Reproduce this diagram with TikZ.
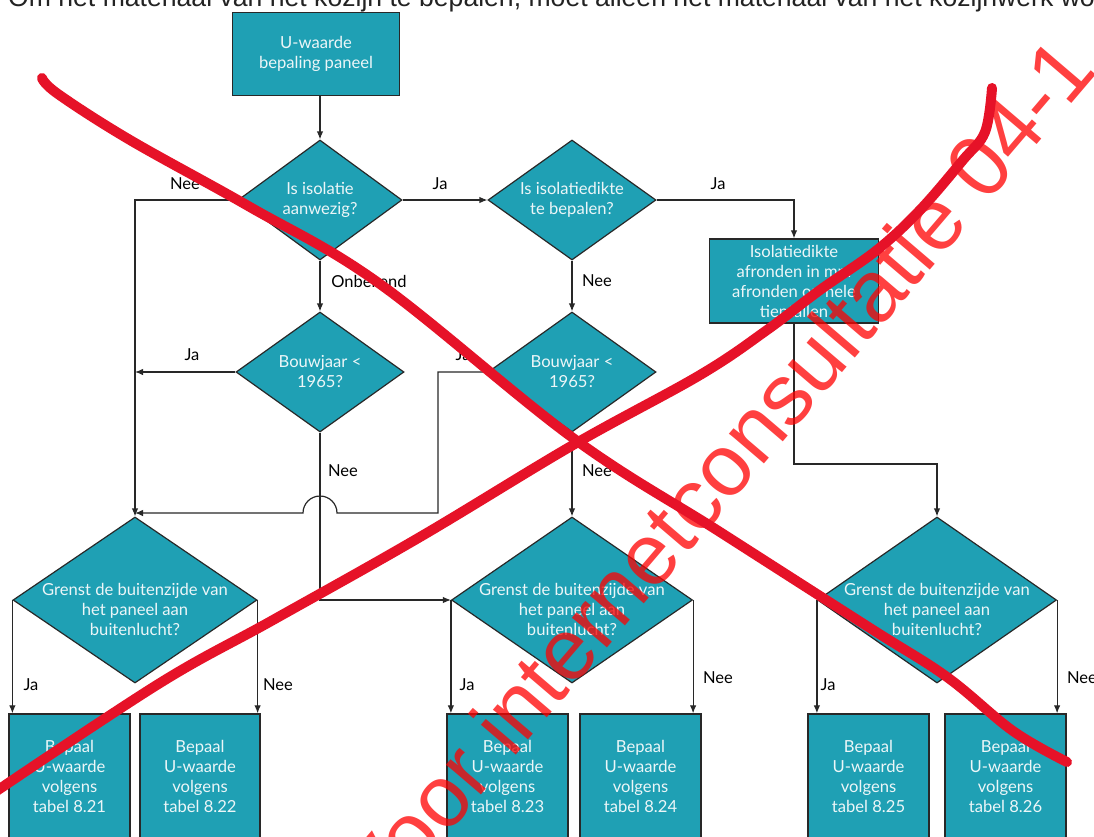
\documentclass[tikz,border=0pt]{standalone}
\usepackage{fontspec}
\setmainfont{Lato}
\newfontfamily\wmfont{Liberation Sans}
\usetikzlibrary{shapes.geometric,arrows.meta}
\definecolor{tealfill}{RGB}{31,160,180}
\definecolor{edgecol}{RGB}{40,40,40}
\definecolor{boxtxt}{RGB}{236,246,248}
\definecolor{strokered}{RGB}{230,18,40}
\definecolor{introcol}{RGB}{35,35,35}
\begin{document}
\begin{tikzpicture}[x=1pt,y=-1pt,
  box/.style={draw=edgecol, line width=1.3pt, fill=tealfill, text=boxtxt, align=center, inner sep=0pt, font=\fontsize{16.6}{20}\selectfont},
  dia/.style={draw=edgecol, line width=1.2pt, fill=tealfill, diamond, inner sep=0pt},
  dtxt/.style={text=boxtxt, align=center, inner sep=0pt, font=\fontsize{16.6}{20}\selectfont},
  lbl/.style={text=black, inner sep=0pt, font=\fontsize{16.5}{18}\selectfont},
  conn/.style={draw=edgecol, line width=1.2pt},
  arr/.style={conn, -{Latex[length=8pt,width=6.5pt]}},
  redstroke/.style={draw=strokered, line width=10pt, line cap=round, line join=round}
]
\useasboundingbox (0,0) rectangle (1094,836);
\clip (0,0) rectangle (1094,836);
\fill[white] (0,0) rectangle (1094,836);

% intro text (cut at top)
\node[anchor=base west, inner sep=0pt, text=introcol, font=\wmfont\fontsize{26.6}{27}\selectfont] (intro) at (8,6)
  {Om het materiaal van het kozijn te bepalen, moet alleen het materiaal van het kozijnwerk worden};

% nodes
\node[box, minimum width=167pt, minimum height=83pt] (top) at (316,54) {U-waarde\\bepaling paneel};

\node[dia, minimum width=164pt, minimum height=120pt] (d1) at (320,200) {};
\node[dtxt] (d1t) at (d1) {Is isolatie\\aanwezig?};

\node[dia, minimum width=168pt, minimum height=120pt] (d2) at (572,200) {};
\node[dtxt] (d2t) at (d2) {Is isolatiedikte\\te bepalen?};

\node[box, minimum width=169pt, minimum height=84pt] (b2) at (794,281)
  {Isolatiedikte\\afronden in mm\\afronden op hele\\tientallen};

\node[dia, minimum width=168pt, minimum height=120pt] (d3) at (320,372) {};
\node[dtxt] (d3t) at (d3) {Bouwjaar <\\1965?};

\node[dia, minimum width=168pt, minimum height=120pt] (d3b) at (572,372) {};
\node[dtxt] (d3bt) at (d3b) {Bouwjaar <\\1965?};

\node[dia, minimum width=244pt, minimum height=166pt] (d4) at (135,600) {};
\node[dtxt] (d4t) at (135,609) {Grenst de buitenzijde van\\het paneel aan\\buitenlucht?};

\node[dia, minimum width=241pt, minimum height=166pt] (d5) at (572,600) {};
\node[dtxt] (d5t) at (572,609) {Grenst de buitenzijde van\\het paneel aan\\buitenlucht?};

\node[dia, minimum width=239pt, minimum height=166pt] (d6) at (937,600) {};
\node[dtxt] (d6t) at (937,609) {Grenst de buitenzijde van\\het paneel aan\\buitenlucht?};

\node[box, minimum width=121pt, minimum height=124pt] (l1) at (69.5,776) {Bepaal\\U-waarde\\volgens\\tabel 8.21};
\node[box, minimum width=120pt, minimum height=124pt] (l2) at (200,776) {Bepaal\\U-waarde\\volgens\\tabel 8.22};
\node[box, minimum width=121pt, minimum height=124pt] (l3) at (507.5,776) {Bepaal\\U-waarde\\volgens\\tabel 8.23};
\node[box, minimum width=121pt, minimum height=124pt] (l4) at (640.5,776) {Bepaal\\U-waarde\\volgens\\tabel 8.24};
\node[box, minimum width=121pt, minimum height=124pt] (l5) at (868.5,776) {Bepaal\\U-waarde\\volgens\\tabel 8.25};
\node[box, minimum width=121pt, minimum height=124pt] (l6) at (1005.5,776) {Bepaal\\U-waarde\\volgens\\tabel 8.26};

% connector helper coordinates
\coordinate (jA) at (438,372);
\coordinate (jB) at (438,513);
\coordinate (hopR) at (337,513);
\coordinate (bend) at (794,464);

% connectors
\draw[arr] (d1.north |- top.south) -- (d1.north);
\draw[arr] (d1.east) -- (d2.west);
\draw[arr] (d1.west) -| (d4.north);
\draw[arr] (d1.south) -- (d3.north);
\draw[arr] (d2.east) -| (b2.north);
\draw[arr] (d2.south) -- (d3b.north);
\draw[arr] (d3.west) -- (d3.west -| d4.north);
\draw[arr] (d3.south) |- (d5.west);
\draw[arr] (d3b.west) -- (jA) -- (jB) -- (hopR) arc[start angle=0, end angle=-180, radius=17] -- (d4.north |- jB);
\draw[arr] (d3b.south) -- (d5.north);
\draw[arr] (b2.south) -- (bend) -| (d6.north);
\draw[arr] (d4.west) -- (d4.west |- l1.north);
\draw[arr] (d4.east) -- (d4.east |- l2.north);
\draw[arr] (d5.west) -- (d5.west |- l3.north);
\draw[arr] (d5.east) -- (d5.east |- l4.north);
\draw[arr] (d6.west) -- (d6.west |- l5.north);
\draw[arr] (d6.east) -- (d6.east |- l6.north);

% labels
\node[lbl] (n1) at (185,184) {Nee};
\node[lbl] (n2) at (440,184) {Ja};
\node[lbl] (n3) at (718,184) {Ja};
\node[lbl] (n4) at (369,281) {Onbekend};
\node[lbl] (n5) at (597,281) {Nee};
\node[lbl] (n6) at (192,355) {Ja};
\node[lbl] (n7) at (463,355) {Ja};
\node[lbl] (n8) at (343,471) {Nee};
\node[lbl] (n9) at (597,471) {Nee};
\node[lbl] (n10) at (31,685) {Ja};
\node[lbl] (n11) at (278,685) {Nee};
\node[lbl] (n12) at (467,685) {Ja};
\node[lbl] (n13) at (718,678) {Nee};
\node[lbl] (n14) at (828,685) {Ja};
\node[lbl] (n15) at (1082,678) {Nee};

% watermark
\node[anchor=base west, inner sep=0pt, rotate=49.5, text=red, text opacity=0.75, font=\wmfont\fontsize{87}{87}\selectfont] (wm) at (380,914)
  {Voor internetconsultatie 04-1};

% red strokes
\draw[redstroke] plot[smooth, tension=0.6] coordinates {(42,78) (58,94) (130,140) (250,207) (380,284) (573,438) (720,532) (870,628) (947,677) (1013,731) (1067,762)};
\draw[redstroke] plot[smooth, tension=0.6] coordinates {(-5,792) (160,683) (273,620) (420,537) (573,445) (700,375) (767,330) (820,290) (877,250) (920,210) (963,160) (985,132) (992,88)};
\end{tikzpicture}
\end{document}
